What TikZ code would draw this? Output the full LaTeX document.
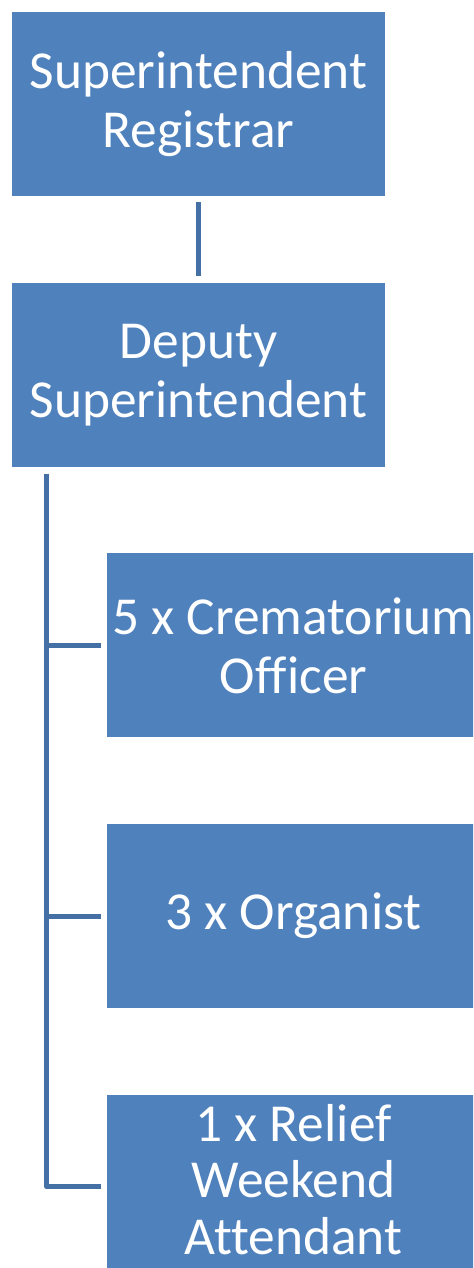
\documentclass[tikz,border=0pt]{standalone}
\usepackage{fontspec}
\setmainfont[Ligatures={NoCommon}]{Carlito}
\usepackage{xcolor}
\usepackage{tikz}
\usetikzlibrary{positioning,calc}
\definecolor{boxBlue}{HTML}{4F81BD}
\definecolor{lineBlue}{HTML}{4570A6}
\tikzstyle{staffBox}=[rectangle,fill=boxBlue,text=white,minimum width=7.46cm,
  minimum height=3.68cm,align=center,inner sep=0pt,
  font=\fontsize{30.4}{33.6}\selectfont]
\tikzset{link/.style={draw=lineBlue,line width=0.1cm,line join=round},
  gapped/.style={shorten <=0.12cm,shorten >=0.12cm},
  tightBox/.style={font=\fontsize{30.4}{32.3}\selectfont,text depth=0.3cm}
}

\begin{document}
\begin{tikzpicture}[node distance=1.72cm]
      \clip (-3.97,2.08) rectangle (5.49,-23.28);
      \node[staffBox] (super) [] at (0,0) {Superintendent\\Registrar};
      \node[staffBox] (deputy) [below = of super] {Deputy\\Superintendent};
      \node[staffBox] (crem) [below = of deputy, xshift=1.9cm] {5 x Crematorium\\Officer};
      \node[staffBox] (organ) [below = of crem] {3 x Organist};
      \node[staffBox,tightBox] (relief) [below = of organ] {1 x Relief\\Weekend\\Attendant};
      \coordinate (spine) at ($(deputy.south west)+(0.7,-0.13)$);
      \draw[link,gapped] (super) -- (deputy);
      \draw[link,shorten >=0.12cm] (spine) |- (crem.west);
      \draw[link,shorten >=0.12cm] (spine) |- (organ.west);
      \draw[link,shorten >=0.12cm] (spine) |- (relief.west);
    \end{tikzpicture}
\end{document}
